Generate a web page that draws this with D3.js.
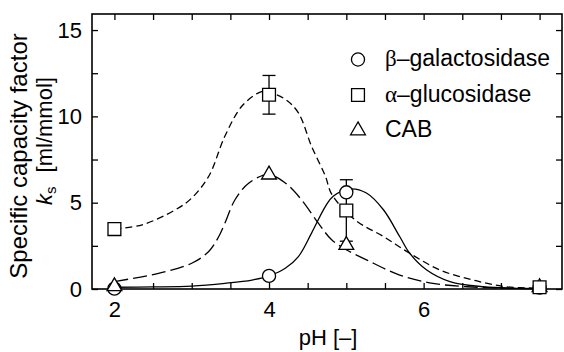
<!DOCTYPE html>
<html>
<head>
<meta charset="utf-8">
<script src="https://cdn.jsdelivr.net/npm/d3@7"></script>
<style>
  body { margin: 0; background: #fff; }
  text { font-family: "Liberation Sans", Arial, sans-serif; fill: #000; }
</style>
</head>
<body>
<div id="canvas"></div>
<script>
// measured points
let pH = [2, 4, 5, 7.5];
let galValues = [0.02, 0.76, 5.6, 0.08];
let glcValues = [3.47, 11.25, 4.55, 0.1];
let glcErr = [0, 1.12, 1.78, 0];
let cabValues = [0.15, 6.62, 2.54, 0.1];

// fitted curves
let galCurveX = [2.0, 2.5, 3.0, 3.43, 3.78, 4.0, 4.21, 4.38, 4.55, 4.73, 4.83, 5.05, 5.26, 5.48, 5.69, 5.82, 6.04, 6.34, 6.77, 7.5];
let galCurveY = [0.1, 0.12, 0.17, 0.33, 0.52, 0.76, 1.2, 1.88, 3.24, 4.79, 5.37, 5.8, 5.56, 4.59, 3.04, 2.07, 1.1, 0.43, 0.13, 0.02];

let glcCurveX = [2.0, 2.36, 2.79, 3.0, 3.22, 3.43, 3.65, 3.87, 3.95, 4.21, 4.38, 4.55, 4.73, 4.81, 5.11, 5.48, 5.82, 6.21, 6.64, 7.07, 7.5];
let glcCurveY = [3.47, 3.72, 4.59, 5.27, 6.53, 8.86, 10.6, 11.38, 11.45, 10.99, 10.2, 8.27, 6.53, 5.5, 4.01, 3.04, 2.07, 1.1, 0.52, 0.13, 0.05];

let cabCurveX = [2.0, 2.57, 3.0, 3.22, 3.35, 3.43, 3.56, 3.74, 3.99, 4.21, 4.42, 4.64, 4.81, 5.0, 5.26, 5.69, 6.12, 6.56, 7.07, 7.5];
let cabCurveY = [0.43, 0.91, 1.49, 2.17, 3.04, 3.82, 5.17, 6.14, 6.63, 6.14, 5.17, 3.8, 2.85, 2.27, 1.69, 0.81, 0.33, 0.13, 0.05, 0.02];

let xTicks = [2, 2.5, 3, 3.5, 4, 4.5, 5, 5.5, 6, 6.5, 7, 7.5];
let xTickLabels = [2, 4, 6];
let yTicks = [0, 2.5, 5, 7.5, 10, 12.5, 15];
let yTickLabels = [0, 5, 10, 15];

let legendNames = ["galactosidase", "glucosidase", "CAB"];
let legendGreek = ["β", "α", ""];
let legendSymbols = ["circle", "square", "triangle"];

let width = 564, height = 352;
let plot = { left: 92, right: 562, top: 14, bottom: 289 };

let svg = d3.select("#canvas")
  .append("svg")
  .attr("width", width)
  .attr("height", height);

let x = d3.scaleLinear().domain([1.71, 7.79]).range([plot.left, plot.right]);
let y = d3.scaleLinear().domain([0, 15.93]).range([plot.bottom, plot.top]);

// axes with inward ticks
function styleAxis(g) {
  g.select(".domain").remove();
  g.selectAll("line").attr("stroke", "#000").attr("stroke-width", 1.3);
  g.selectAll("text").style("font-size", "22px").attr("fill", "#000")
    .style("font-family", "'Liberation Sans', Arial, sans-serif");
}

svg.append("g")
  .attr("transform", "translate(0," + plot.bottom + ")")
  .call(d3.axisBottom(x).tickValues(xTicks).tickSize(-6).tickPadding(12)
    .tickFormat(d => xTickLabels.includes(d) ? d : ""))
  .call(styleAxis);

svg.append("g")
  .attr("transform", "translate(0," + plot.top + ")")
  .call(d3.axisTop(x).tickValues(xTicks).tickSize(-6).tickFormat(""))
  .call(styleAxis);

svg.append("g")
  .attr("transform", "translate(" + plot.left + ",0)")
  .call(d3.axisLeft(y).tickValues(yTicks).tickSize(-6).tickPadding(10)
    .tickFormat(d => yTickLabels.includes(d) ? d : ""))
  .call(styleAxis);

svg.append("g")
  .attr("transform", "translate(" + plot.right + ",0)")
  .call(d3.axisRight(y).tickValues(yTicks).tickSize(-6).tickFormat(""))
  .call(styleAxis);

svg.append("rect")
  .attr("x", plot.left)
  .attr("y", plot.top)
  .attr("width", plot.right - plot.left)
  .attr("height", plot.bottom - plot.top)
  .attr("fill", "none")
  .attr("stroke", "#000")
  .attr("stroke-width", 1.6);

// curves
let line = d3.line()
  .x(d => x(d[0]))
  .y(d => y(d[1]))
  .curve(d3.curveCatmullRom.alpha(0.5));

let curves = [
  { xs: galCurveX, ys: galCurveY, dash: null },
  { xs: glcCurveX, ys: glcCurveY, dash: "7,4" },
  { xs: cabCurveX, ys: cabCurveY, dash: "14,5" }
];

curves.forEach(c => {
  svg.append("path")
    .datum(c.xs.map((v, i) => [v, c.ys[i]]))
    .attr("d", line)
    .attr("fill", "none")
    .attr("stroke", "#000")
    .attr("stroke-width", 1.3)
    .attr("stroke-dasharray", c.dash);
});

// error bars
pH.forEach((p, i) => {
  if (glcErr[i] === 0) return;
  let lo = y(glcValues[i] - glcErr[i]), hi = y(glcValues[i] + glcErr[i]);
  let g = svg.append("g").attr("stroke", "#000").attr("stroke-width", 1.3);
  g.append("line").attr("x1", x(p)).attr("x2", x(p)).attr("y1", lo).attr("y2", hi);
  g.append("line").attr("x1", x(p) - 6.5).attr("x2", x(p) + 6.5).attr("y1", lo).attr("y2", lo);
  g.append("line").attr("x1", x(p) - 6.5).attr("x2", x(p) + 6.5).attr("y1", hi).attr("y2", hi);
});

// markers
let symbolPath = {
  circle: d3.symbol().type(d3.symbolCircle).size(135)(),
  square: d3.symbol().type(d3.symbolSquare).size(165)(),
  triangle: d3.symbol().type(d3.symbolTriangle).size(95)()
};

function drawMarkers(values, shape) {
  svg.selectAll(".m-" + shape)
    .data(values)
    .enter()
    .append("path")
    .attr("class", "m-" + shape)
    .attr("d", symbolPath[shape])
    .attr("transform", (d, i) => "translate(" + x(pH[i]) + "," + y(d) + ")")
    .attr("fill", "#fff")
    .attr("stroke", "#000")
    .attr("stroke-width", 1.3);
}

drawMarkers(galValues, "circle");
drawMarkers(cabValues, "triangle");
drawMarkers(glcValues, "square");

// legend
let legend = svg.selectAll(".legend")
  .data(legendNames)
  .enter()
  .append("g")
  .attr("class", "legend")
  .attr("transform", (d, i) => "translate(0," + (66 + i * 35.5) + ")");

legend.append("path")
  .attr("d", (d, i) => symbolPath[legendSymbols[i]])
  .attr("transform", "translate(358,-6.5)")
  .attr("fill", "#fff")
  .attr("stroke", "#000")
  .attr("stroke-width", 1.3);

let legendText = legend.append("text")
  .attr("x", 385)
  .style("font-size", "23px");

legendText.append("tspan")
  .style("font-family", "'Liberation Serif', 'Times New Roman', serif")
  .text((d, i) => legendGreek[i]);
legendText.append("tspan")
  .text((d, i) => legendGreek[i] ? "–" + d : d);

// axis titles
svg.append("text")
  .attr("transform", "translate(27,156) rotate(-90)")
  .attr("text-anchor", "middle")
  .style("font-size", "24px")
  .text("Specific capacity factor");

let yTitle2 = svg.append("text")
  .attr("transform", "translate(52,141) rotate(-90)")
  .attr("text-anchor", "middle")
  .style("font-size", "22px");
yTitle2.append("tspan").style("font-style", "italic").text("k");
yTitle2.append("tspan").attr("dy", 4).style("font-size", "15px").text("s");
yTitle2.append("tspan").attr("dy", -4).attr("dx", 14).text("[ml/mmol]");

svg.append("text")
  .attr("x", 328)
  .attr("y", 345)
  .attr("text-anchor", "middle")
  .style("font-size", "22px")
  .text("pH [–]");
</script>
</body>
</html>
